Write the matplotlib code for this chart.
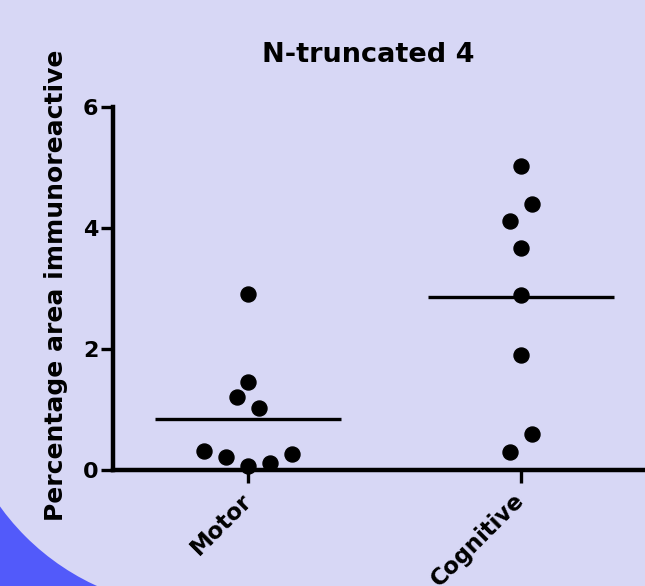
import matplotlib
matplotlib.use('Agg')
import matplotlib.pyplot as plt
import matplotlib.patches as patches
import numpy as np

# data (percentage area immunoreactive)
groups = ['Motor', 'Cognitive']
motor_values = [2.90, 1.45, 1.20, 1.02, 0.31, 0.21, 0.06, 0.11, 0.26]
cognitive_values = [5.02, 4.11, 4.39, 3.66, 2.89, 1.89, 0.29, 0.59]
y_ticks = [0, 2, 4, 6]
title = 'N-truncated 4'
y_label = 'Percentage area immunoreactive'

lavender = '#D7D7F5'
blue = '#525AFA'
plt.rcParams['font.family'] = ['DejaVu Sans']
plt.rcParams['font.weight'] = 'bold'


def swarm_offsets(values, tol=0.32, slot=0.0806):
    # group close values into one row, then spread each row sideways
    # (left to right in the order the values were entered)
    order = np.argsort(values)
    offsets = np.zeros(len(values))
    rows = []
    for idx in order:
        if rows and values[idx] - values[rows[-1][0]] <= tol:
            rows[-1].append(idx)
        else:
            rows.append([idx])
    for row in rows:
        row = sorted(row)
        n = len(row)
        for k, idx in enumerate(row):
            offsets[idx] = (k - (n - 1) / 2) * slot
    return offsets


fig = plt.figure(figsize=(6.45, 5.86), dpi=100, facecolor=blue)

# slide background: lavender rounded panel, blue shows in bottom-left corner
fig.patches.append(patches.Rectangle((0.307, 0), 0.693, 1, transform=fig.transFigure,
                                     facecolor=lavender, edgecolor='none', zorder=-10))
fig.patches.append(patches.Rectangle((0, 0.379), 1, 0.621, transform=fig.transFigure,
                                     facecolor=lavender, edgecolor='none', zorder=-10))
fig.patches.append(patches.Ellipse((0.307, 0.379), 0.7566, 0.8328, transform=fig.transFigure,
                                   facecolor=lavender, edgecolor='none', zorder=-10))

ax = fig.add_axes([113 / 645, 116.5 / 586, 532 / 645, 362.8 / 586])
ax.patch.set_alpha(0)

for i, vals in enumerate([motor_values, cognitive_values]):
    vals = np.asarray(vals)
    xs = i + swarm_offsets(vals)
    ax.plot(xs, vals, 'o', color='black', markersize=10.8, linestyle='none',
            clip_on=False, zorder=3)
    # mean line
    ax.plot([i - 0.34, i + 0.34], [vals.mean(), vals.mean()], color='black',
            linewidth=2.4, solid_capstyle='butt', zorder=2)

ax.set_xlim(-0.495, 1.454)
ax.set_ylim(0, 6)
ax.set_yticks(y_ticks)
ax.set_xticks(range(len(groups)))
ax.set_xticklabels(groups, rotation=45, ha='right', va='center',
                   rotation_mode='anchor', fontsize=16.5, fontweight='bold')
ax.tick_params(axis='y', labelsize=16, length=8.5, width=2.4, pad=2)
ax.tick_params(axis='x', length=9, width=2.4, pad=11)

for side in ['top', 'right']:
    ax.spines[side].set_visible(False)
for side in ['left', 'bottom']:
    ax.spines[side].set_linewidth(3.2)
    ax.spines[side].set_capstyle('projecting')

fig.text(368 / 645, 0.8947, title, ha='center', va='baseline',
         fontsize=19.5, fontweight='bold')
fig.text(56.5 / 645, 0.5136, y_label, ha='center', va='center', rotation=90,
         fontsize=18, fontweight='bold')

fig.savefig('out.png', dpi=100, facecolor=fig.get_facecolor())
